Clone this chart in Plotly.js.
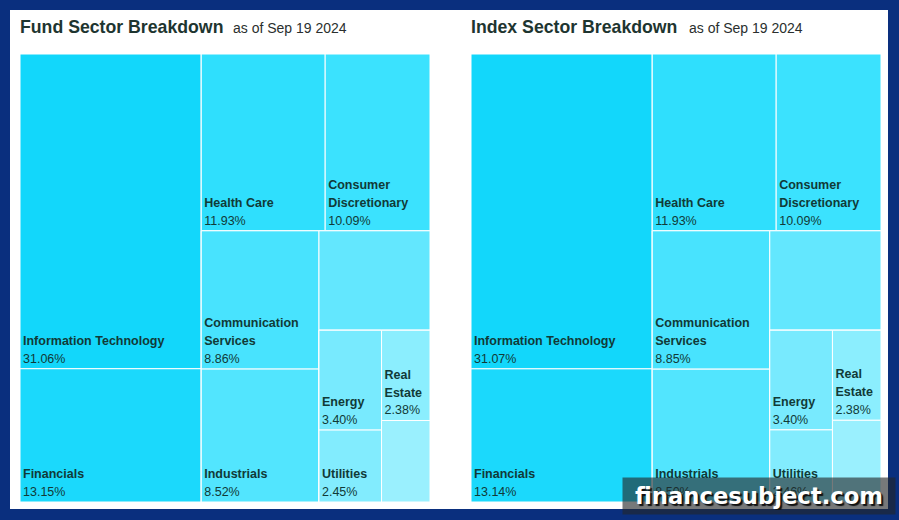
<!DOCTYPE html>
<html>
<head>
<meta charset="utf-8">
<script src="https://cdn.plot.ly/plotly-3.0.1.min.js"></script>
<style>
  html, body { margin: 0; padding: 0; background: #0a2f7e; }
  #chart { width: 899px; height: 520px; }
</style>
</head>
<body>
<div id="chart"></div>
<script>
// Sector weights (% of total) for the fund and its benchmark index
const sectors = ["Information Technology", "Financials", "Health Care", "Consumer Discretionary",
  "Communication Services", "Industrials", "Consumer Staples", "Energy", "Utilities",
  "Real Estate", "Materials"];
const cellLabels = ["Information Technology", "Financials", "Health Care", "Consumer<br>Discretionary",
  "Communication<br>Services", "Industrials", "", "Energy", "Utilities", "Real<br>Estate", ""];
const fundWeights  = [31.06, 13.15, 11.93, 10.09, 8.86, 8.52, 6.01, 3.40, 2.45, 2.38, 2.15];
const indexWeights = [31.07, 13.14, 11.93, 10.09, 8.85, 8.50, 6.02, 3.40, 2.46, 2.38, 2.16];
const sectorColors = ["#12d7fb", "#1bd9fc", "#2fdffd", "#3be2fe", "#48e3fe", "#52e5fe",
  "#63e7fe", "#78eafe", "#82ecfe", "#8beefe", "#9af0fe"];
const asOfDate = "as of Sep 19 2024";

// Nested grouping of sector indexes: alternating slice/dice levels
const nesting = [[0, 1], [[2, 3], [[4, 5], [6, [[7, 8], [9, 10]]]]]];

// cell text is drawn a little smaller than the trace font so lines get more room
const cellFont = 12.5;

function cellText(label, weight) {
  const lines = label.split("<br>").map(s => "<b>" + s + "</b>");
  lines.push(weight.toFixed(2) + "%");
  return lines.map(s => "<span style='font-size:" + cellFont + "px'>" + s + "</span>").join("<br>");
}

function buildTrace(weights, domainX, domainY) {
  const ids = [], labels = [], parents = [], values = [], text = [], colors = [];
  let g = 0;
  function walk(node, parentId) {
    node.forEach(child => {
      if (Array.isArray(child)) {
        const id = "group" + (g++);
        ids.push(id); labels.push(id); parents.push(parentId); values.push(0);
        text.push(""); colors.push("#ffffff");
        walk(child, id);
      } else {
        ids.push(sectors[child]); labels.push(sectors[child]); parents.push(parentId);
        values.push(weights[child]); colors.push(sectorColors[child]);
        text.push(cellLabels[child] ? cellText(cellLabels[child], weights[child]) : "");
      }
    });
  }
  walk(nesting, "");
  return {
    type: "treemap",
    ids, labels, parents, values, text,
    textinfo: "text",
    branchvalues: "remainder",
    sort: false,
    tiling: { packing: "slice-dice", pad: 0 },
    marker: { colors, line: { color: "#ffffff", width: 1 }, pad: { t: 0, l: 0, r: 0, b: 0 } },
    leaf: { opacity: 1 },
    pathbar: { visible: false },
    textposition: "bottom left",
    textfont: { family: "Liberation Sans, Arial, sans-serif", size: 13.8, color: "#113a37" },
    hovertemplate: "%{label}: %{value:.2f}%<extra></extra>",
    domain: { x: domainX, y: domainY }
  };
}

const W = 899, H = 520;
const px = v => v / W, py = v => 1 - v / H;

const data = [
  buildTrace(fundWeights,  [px(20), px(430)],  [py(502), py(54)]),
  buildTrace(indexWeights, [px(471), px(881)], [py(502), py(54)])
];

function titleAnn(x, title, subX) {
  return [
    { xref: "paper", yref: "paper", x: px(x), y: py(27), xanchor: "left", yanchor: "middle",
      showarrow: false, text: "<b>" + title + "</b>",
      font: { family: "Liberation Sans, Arial, sans-serif", size: 17.7, color: "#1e3530" } },
    { xref: "paper", yref: "paper", x: px(subX), y: py(28), xanchor: "left", yanchor: "middle",
      showarrow: false, text: asOfDate,
      font: { family: "Liberation Sans, Arial, sans-serif", size: 14, color: "#2a2f2e" } }
  ];
}

const layout = {
  width: W, height: H,
  margin: { l: 0, r: 0, t: 0, b: 0 },
  paper_bgcolor: "#0a2f7e",
  showlegend: false,
  shapes: [
    { type: "rect", xref: "paper", yref: "paper", layer: "below",
      x0: px(10), x1: px(888), y0: py(509), y1: py(10),
      fillcolor: "#ffffff", line: { width: 0 } }
  ],
  annotations: [
    ...titleAnn(18, "Fund Sector Breakdown", 231),
    ...titleAnn(469, "Index Sector Breakdown", 687),
    { xref: "paper", yref: "paper", x: px(759), y: py(496), xanchor: "center", yanchor: "middle",
      showarrow: false, text: "<b>financesubject.com</b>",
      bgcolor: "rgba(35,38,40,0.62)", borderpad: 4, width: 264, height: 28,
      font: { family: "DejaVu Sans, sans-serif", size: 22.7, color: "#ffffff",
              shadow: "2px 2px 1px #111" } }
  ],
  uniformtext: { mode: "show", minsize: 13.8 }
};

Plotly.newPlot("chart", data, layout, { displayModeBar: false, staticPlot: true });
</script>
</body>
</html>
